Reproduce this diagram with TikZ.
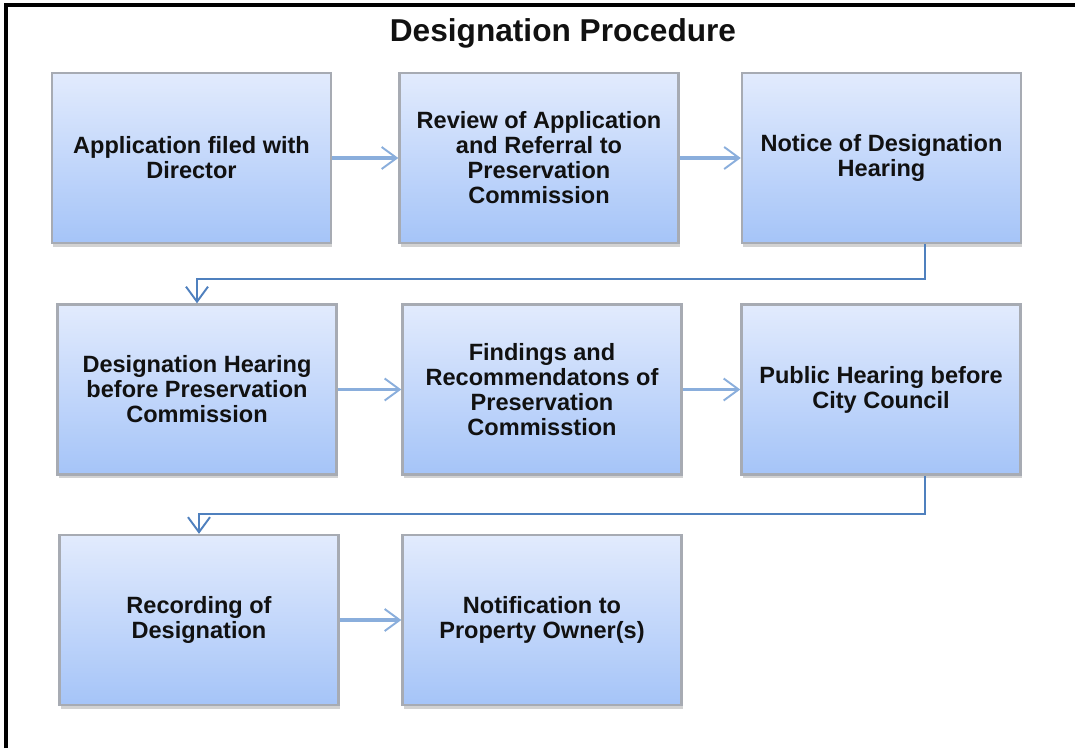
\documentclass[tikz,border=0pt]{standalone}
\usepackage{fontspec}
\setmainfont{Liberation Sans}
\usepackage{tikz}
\usetikzlibrary{arrows.meta,positioning,calc,shadows}
\definecolor{DPTop}{HTML}{E2EBFD}
\definecolor{DPBottom}{HTML}{A5C4F8}
\definecolor{DPEdge}{HTML}{A7ABB3}
\definecolor{DPFlow}{HTML}{8AAEDC}
\definecolor{DPLink}{HTML}{4F80BE}
\definecolor{DPInk}{HTML}{111111}
\tikzset{
  flow/.style={-{Straight Barb[length=3.0mm,width=4.4mm,line width=1.1pt]},DPFlow,line width=2.0pt},
  elbow/.style={-{Straight Barb[length=3.0mm,width=4.4mm,line width=1.1pt]},DPLink,line width=1.2pt},
  stepcard/.style={draw=DPEdge,line width=1.4pt,top color=DPTop,bottom color=DPBottom,
                   minimum width=5.58cm,minimum height=3.40cm,text=DPInk,align=center,
                   font=\fontsize{13.4}{14.2}\selectfont\bfseries,
                   drop shadow={shadow xshift=0.6pt,shadow yshift=-2.2pt,fill=black!35,opacity=.5}},
  frame/.style={black,line width=2.2pt},
  pagetitle/.style={text=DPInk,font=\fontsize{18}{20}\selectfont\bfseries},
}

\begin{document}
\begin{tikzpicture}[x=0.02cm,y=-0.02cm]
    \useasboundingbox (0,0) rectangle (1075,748);
    % open frame, left and top only
    \draw[frame] (6,748) -- (6,5) -- (1075,5);
    \node[pagetitle] (title) at (563,33) {Designation Procedure};

    % first row
    \node[stepcard] (apply) at (191.5,158) {Application filed with\\Director};
    \node[stepcard] (review) at (539,158) {Review of Application\\and Referral to\\Preservation\\Commission};
    \node[stepcard] (notice) at (881.5,158) {Notice of Designation\\Hearing};

    % second row
    \node[stepcard] (hearing) at (197,389.5) {Designation Hearing\\before Preservation\\Commission};
    \node[stepcard] (findings) at (542,389.5) {Findings and\\Recommendatons of\\Preservation\\Commisstion};
    \node[stepcard] (council) at (881,389.5) {Public Hearing before\\City Council};

    % third row
    \node[stepcard] (record) at (199,620) {Recording of\\Designation};
    \node[stepcard] (notify) at (542,620) {Notification to\\Property Owner(s)};

    \draw[flow] (apply) -- (review);
    \draw[flow] (review) -- (notice);
    \draw[elbow] ([xshift=0.87cm]notice.south) -- ++(0,-0.7cm) -| (hearing.north);
    \draw[flow] (hearing) -- (findings);
    \draw[flow] (findings) -- (council);
    \draw[elbow] ([xshift=0.88cm]council.south) -- ++(0,-0.76cm) -| (record.north);
    \draw[flow] (record) -- (notify);
  \end{tikzpicture}
\end{document}
